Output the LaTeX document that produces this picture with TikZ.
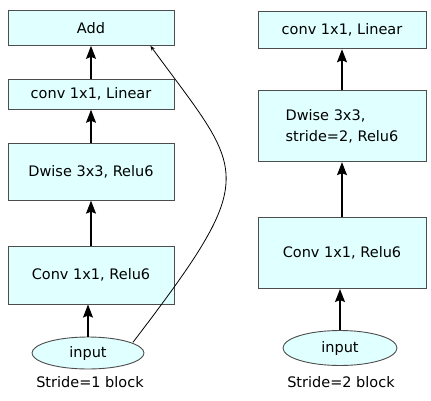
\documentclass[tikz,border=0pt]{standalone}
\usepackage{fontspec}
\setmainfont{DejaVu Sans}
\usetikzlibrary{positioning,shapes.geometric,arrows.meta}
\definecolor{boxfill}{HTML}{E0FFFF}
\definecolor{boxline}{HTML}{4D4D4D}

\begin{document}
\begin{tikzpicture}[x=1pt, y=1pt, >={Stealth[length=13pt,width=10pt,inset=2pt]},
    font=\fontsize{14.5}{21}\selectfont]
  \tikzstyle{blk}=[rectangle, draw=boxline, fill=boxfill, line width=0.9pt, inner sep=0pt]
  \tikzstyle{inp}=[ellipse, draw=boxline, fill=boxfill, line width=0.9pt, inner sep=0pt]
  \tikzstyle{up}=[->, line width=1.1pt]
  \useasboundingbox (0,0) rectangle (431,400);

  % stride 1 block
  \node[inp, minimum width=112pt, minimum height=32pt] (in1) at (88,47) {input};
  \node[blk, minimum width=166pt, minimum height=58pt, above=32pt of in1, xshift=3pt] (cv1) {Conv 1x1, Relu6};
  \node[blk, minimum width=166pt, minimum height=57pt, above=45pt of cv1] (dw1) {Dwise 3x3, Relu6};
  \node[blk, minimum width=166pt, minimum height=30pt, above=33pt of dw1] (lin1) {conv 1x1, Linear};
  \node[blk, minimum width=166pt, minimum height=35pt, above=33pt of lin1] (add) {Add};
  \node (cap1) at (90,18) {Stride=1 block};

  \draw[up] (in1.north) -- (in1.north |- cv1.south);
  \draw[up] (cv1) -- (dw1);
  \draw[up] (dw1) -- (lin1);
  \draw[up] (lin1) -- (add);

  % shortcut
  \coordinate (sk1) at ([xshift=5pt, yshift=-1pt]in1.north east);
  \coordinate (sk2) at ([xshift=-24pt]add.south east);
  \draw[line width=0.8pt, -{Stealth[length=5pt,width=4pt]}]
    (sk1) .. controls (263,228) and (245,225) .. (sk2);

  % stride 2 block
  \node[inp, minimum width=114pt, minimum height=35pt] (in2) at (340,52) {input};
  \node[blk, minimum width=168pt, minimum height=71pt, above=41pt of in2, xshift=2pt] (cv2) {Conv 1x1, Relu6};
  \node[blk, minimum width=168pt, minimum height=71pt, above=55pt of cv2, align=left] (dw2) {Dwise 3x3,\\stride=2, Relu6};
  \node[blk, minimum width=168pt, minimum height=37pt, above=41pt of dw2] (lin2) {conv 1x1, Linear};
  \node (cap2) at (341,18) {Stride=2 block};

  \draw[up] (in2.north) -- (in2.north |- cv2.south);
  \draw[up] (cv2) -- (dw2);
  \draw[up] (dw2) -- (lin2);
\end{tikzpicture}
\end{document}
